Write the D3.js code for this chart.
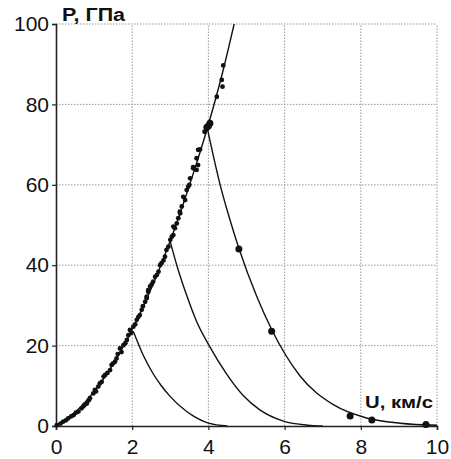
<html><head>
<meta charset="UTF-8">
<script src="https://cdn.jsdelivr.net/npm/d3@7"></script>
<style>
  body { margin: 0; background: #fff; }
  text { font-family: Arial, "Liberation Sans", sans-serif; fill: #111; }
</style>
</head>
<body>
<div id="chart"></div>
<script>
  // Hugoniot (U, P) and release isentropes
  const hugoniot = [[0,0],[0.5,3.4],[1,8.6],[1.5,15.4],[2,24],[2.5,34.2],[3,46.1],[3.5,59.8],[4,75],[4.4,89],[4.7,101]];
  const release1 = [[2.03,23.5],[2.29,17.6],[2.55,13.0],[2.75,10.2],[3.0,7.3],[3.43,3.6],[3.6,2.5],[4.0,0.7],[4.5,0]];
  const release2 = [[3.0,45.8],[3.17,40],[3.43,32.5],[3.69,26],[4.02,20],[4.48,12.9],[4.92,7.5],[5.35,4],[5.97,1.2],[6.6,0.2],[7,0]];
  const release3 = [[3.96,74.5],[4.13,67.2],[4.3,60.3],[4.57,51.2],[4.8,44.2],[5.27,32.2],[5.66,24.0],[6.4,12.5],[7.28,5.3],[8.15,2.0],[9.03,0.7],[10,0.2]];

  // experimental points on the Hugoniot (small dots)
  const shockPts = [
    [0.02,0.2],[0.12,0.6],[0.19,1.1],[0.26,1.4],[0.32,1.9],[0.4,2.4],[0.46,2.7],[0.52,3.3],[0.59,3.6],[0.67,4.4],
    [0.72,4.9],[0.75,5.3],[0.81,5.6],[0.86,6.4],[0.89,6.9],[0.98,8.1],[1.02,9],[1.05,8.6],[1.11,9.8],[1.15,10.6],
    [1.2,11],[1.25,12.3],[1.29,12.7],[1.35,13.2],[1.42,13.9],[1.46,15.2],[1.5,15.6],[1.55,16],[1.59,16.8],[1.62,17.9],
    [1.68,19.3],[1.72,18.4],[1.77,20.1],[1.82,20.6],[1.86,21.4],[1.9,22.6],[1.94,23.9],[1.98,23.2],[2.03,24.7],[2.08,25.3],
    [2.12,26.4],[2.16,27.1],[2.2,27.6],[2.25,28.9],[2.28,29.8],[2.34,30.9],[2.38,32.2],[2.38,31.8],[2.42,33.8],[2.42,33.4],
    [2.47,34.7],[2.51,35.2],[2.55,35.9],[2.6,37.1],[2.65,37.6],[2.69,38.4],[2.73,40],[2.77,40.5],[2.82,41.2],[2.86,42.1],
    [2.9,43.8],[2.95,44.6],[3.0,46.3],[3.04,47.1],[3.08,47.5],[3.12,49.2],[3.08,49.6],[3.17,50.4],[3.21,51.7],[3.26,52.9],
    [3.25,53.3],[3.3,54.6],[3.39,56.2],[3.34,57],[3.43,58.7],[3.47,59.5],[3.5,60],[3.52,61.6],[3.6,64.4],[3.69,63.7],
    [3.6,64.1],[3.73,64.9],[3.69,66.6],[3.73,68.7],[3.78,68.8],[3.9,73.2],[4.22,81.9],[4.37,84.4],[4.35,86.1],[4.39,89.7]
  ];
  // points on the release isentrope (large dots)
  const releasePts = [[3.96,74.3],[4.04,75.3],[4.0,74.6],[4.8,44],[5.66,23.6],[7.72,2.5],[8.29,1.5],[9.71,0.4]];

  const xTicks = [0,2,4,6,8,10];
  const yTicks = [0,20,40,60,80,100];

  const width = 451, height = 459;
  const margin = {top: 24, right: 14, bottom: 33, left: 56};

  const svg = d3.select("#chart").append("svg")
    .attr("width", width)
    .attr("height", height);

  const x = d3.scaleLinear().domain([0, 10]).range([margin.left, width - margin.right]);
  const y = d3.scaleLinear().domain([0, 100]).range([height - margin.bottom, margin.top]);

  // dotted grid
  const grid = svg.append("g")
    .attr("stroke", "#9a9a9a")
    .attr("stroke-width", 1)
    .attr("stroke-dasharray", "1.5,1.5");
  grid.selectAll(".gx").data(xTicks.slice(1)).enter().append("line")
    .attr("x1", d => x(d)).attr("x2", d => x(d))
    .attr("y1", y(0)).attr("y2", y(100));
  grid.selectAll(".gy").data(yTicks.slice(1)).enter().append("line")
    .attr("x1", x(0)).attr("x2", x(10))
    .attr("y1", d => y(d)).attr("y2", d => y(d));

  // axes
  const xAxis = svg.append("g")
    .attr("transform", `translate(0,${y(0)})`)
    .call(d3.axisBottom(x).tickValues(xTicks).tickSize(4).tickPadding(9));
  const yAxis = svg.append("g")
    .attr("transform", `translate(${x(0)},0)`)
    .call(d3.axisLeft(y).tickValues(yTicks).tickSize(4).tickPadding(3));

  [xAxis, yAxis].forEach(a => {
    a.select(".domain").attr("stroke", "#222").attr("stroke-width", 1.6);
    a.selectAll(".tick line").attr("stroke", "#222").attr("stroke-width", 1.2);
    a.selectAll(".tick text").attr("font-size", 21).attr("fill", "#111")
      .attr("font-family", "Arial, 'Liberation Sans', sans-serif");
  });

  // clip for curves
  svg.append("clipPath").attr("id", "plot")
    .append("rect")
    .attr("x", x(0)).attr("y", y(100))
    .attr("width", x(10) - x(0)).attr("height", y(0) - y(100));

  const line = d3.line()
    .x(d => x(d[0]))
    .y(d => y(d[1]))
    .curve(d3.curveMonotoneX);

  const curves = svg.append("g").attr("clip-path", "url(#plot)");
  [hugoniot, release1, release2, release3].forEach(c => {
    curves.append("path")
      .datum(c)
      .attr("fill", "none")
      .attr("stroke", "#111")
      .attr("stroke-width", 1.4)
      .attr("d", line);
  });

  svg.append("g").selectAll("circle").data(shockPts).enter().append("circle")
    .attr("cx", d => x(d[0]))
    .attr("cy", d => y(d[1]))
    .attr("r", 2.4)
    .attr("fill", "#111");

  svg.append("g").selectAll("circle").data(releasePts).enter().append("circle")
    .attr("cx", d => x(d[0]))
    .attr("cy", d => y(d[1]))
    .attr("r", 3.5)
    .attr("fill", "#111");

  // axis titles
  svg.append("text")
    .attr("x", 62).attr("y", 21)
    .attr("font-size", 18).attr("font-weight", "bold")
    .attr("textLength", 63).attr("lengthAdjust", "spacingAndGlyphs")
    .text("P, ГПа");

  svg.append("text")
    .attr("x", 365).attr("y", 408)
    .attr("font-size", 16).attr("font-weight", "bold")
    .attr("textLength", 68).attr("lengthAdjust", "spacingAndGlyphs")
    .text("U, км/с");
</script>
</body>
</html>
